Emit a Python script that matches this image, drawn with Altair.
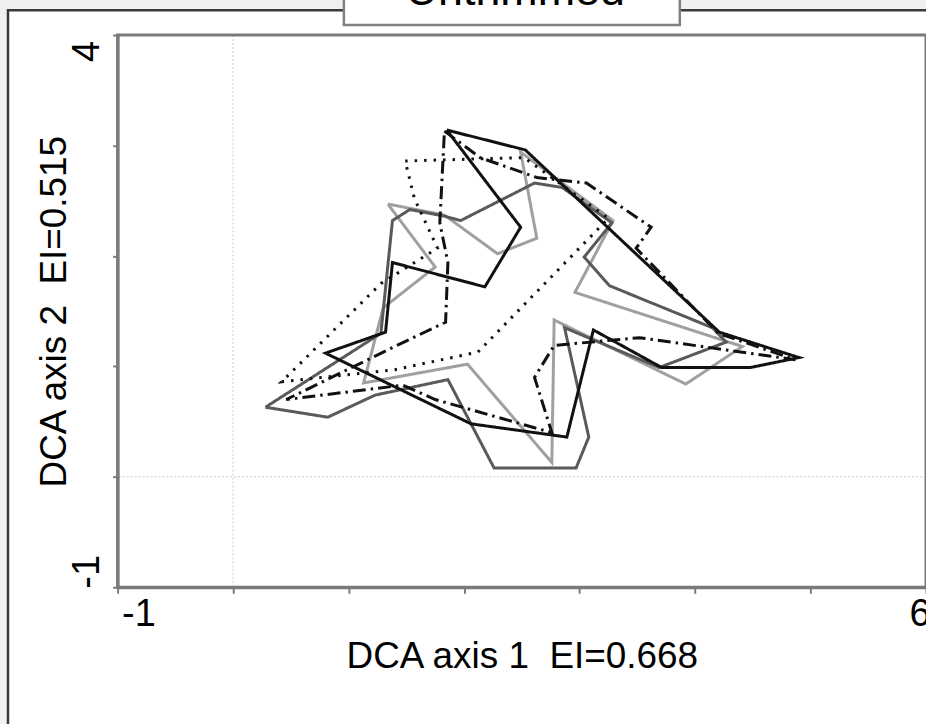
import altair as alt
import pandas as pd

# ---- outline vertices (DCA axis 1, DCA axis 2); each outline is closed ----
light_x = [1.34, 1.83, 2.29, 2.63, 2.49, 3.29, 2.96, 4.41, 3.92, 2.78, 2.76, 2.03, 1.13, 1.30, 1.75, 1.34]
light_y = [2.47, 2.37, 2.02, 2.16, 2.94, 2.32, 1.67, 1.18, 0.84, 1.42, 0.13, 1.02, 0.85, 1.53, 1.90, 2.47]

dark_x = [0.28, 1.28, 1.38, 1.53, 1.83, 1.97, 2.61, 2.85, 3.28, 3.04, 3.26, 4.15, 4.27, 3.69,
          2.87, 3.08, 2.97, 2.26, 1.86, 1.23, 0.82, 0.28]
dark_y = [0.63, 1.30, 2.32, 2.42, 2.36, 2.32, 2.66, 2.62, 2.30, 1.99, 1.73, 1.35, 1.22, 0.99,
          1.35, 0.36, 0.08, 0.08, 0.88, 0.74, 0.54, 0.63]

dotted_x = [1.49, 2.52, 3.25, 2.12, 1.40, 0.42, 1.28, 1.77, 1.57, 1.49]
dotted_y = [2.86, 2.89, 2.34, 1.13, 0.97, 0.86, 1.75, 2.07, 2.52, 2.86]

dashdot_x = [1.83, 2.14, 2.63, 3.06, 3.62, 3.49, 4.20, 4.87, 3.52, 2.78, 2.61, 2.76, 1.75,
             1.47, 0.46, 1.40, 1.84, 1.86, 1.79, 1.83]
dashdot_y = [3.13, 2.89, 2.71, 2.66, 2.26, 2.07, 1.30, 1.06, 1.26, 1.19, 0.90, 0.40, 0.70,
             0.83, 0.70, 1.18, 1.40, 1.94, 2.30, 3.13]

black_x = [1.85, 2.53, 4.21, 4.90, 4.48, 3.71, 3.12, 2.89, 2.06, 0.80, 1.32, 1.38, 2.18, 2.49, 1.85]
black_y = [3.14, 2.96, 1.31, 1.08, 0.99, 0.99, 1.33, 0.36, 0.48, 1.12, 1.31, 1.94, 1.72, 2.26, 3.14]

x_ticks = [-1, 0, 1, 2, 3, 4, 5, 6]
y_ticks = [-1, 0, 1, 2, 3, 4]
zero_lines = [0]

# ---- styling ----
FONT = "Liberation Sans"
AXIS_GRAY = "#7a7a7a"
W, H = 811, 554
LABEL_SIZE = 38

outline_styles = [
    ("light", light_x, light_y, "#a0a0a0", [1, 0]),
    ("dark", dark_x, dark_y, "#5a5a5a", [1, 0]),
    ("dotted", dotted_x, dotted_y, "#111111", [2.5, 7]),
    ("dashdot", dashdot_x, dashdot_y, "#111111", [13, 5, 2.5, 5]),
    ("black", black_x, black_y, "#111111", [1, 0]),
]

x_scale = alt.Scale(domain=[-1, 6], nice=False, zero=False)
y_scale = alt.Scale(domain=[-1, 4], nice=False, zero=False)

# only the end ticks are labelled; plain hyphen for the negative sign
END_LABEL_X = "datum.value == -1 || datum.value == 6 ? replace(datum.label, '\u2212', '-') : ''"
END_LABEL_Y = "datum.value == -1 || datum.value == 4 ? replace(datum.label, '\u2212', '-') : ''"

x_axis = alt.Axis(
    values=x_ticks,
    labelExpr=END_LABEL_X,
    title="DCA axis 1\u00a0 EI=0.668",
    grid=False,
    domainColor=AXIS_GRAY, domainWidth=3,
    tickColor=AXIS_GRAY, tickWidth=2, tickSize=6,
    labelFont=FONT, labelFontSize=LABEL_SIZE, labelColor="#000000",
    labelFlush=True, labelFlushOffset=0, labelOffset=4, labelPadding=2, labelOverlap=False,
    titleFont=FONT, titleFontSize=37, titleFontWeight="normal", titleColor="#000000",
    titlePadding=5,
    zindex=1,
)

y_axis = alt.Axis(
    values=y_ticks,
    labelExpr=END_LABEL_Y,
    title="DCA axis 2\u00a0 EI=0.515",
    grid=False,
    domainColor=AXIS_GRAY, domainWidth=3,
    tickColor=AXIS_GRAY, tickWidth=2, tickSize=5,
    labelFont=FONT, labelFontSize=LABEL_SIZE, labelColor="#000000",
    labelAngle=270, labelAlign="center", labelBaseline="bottom",
    labelOffset={"condition": {"test": "datum.value == 4", "value": 16}, "value": -16},
    labelPadding=6, labelOverlap=False, labelFlush=False,
    titleFont=FONT, titleFontSize=37, titleFontWeight="normal", titleColor="#000000",
    titlePadding=-5,
    zindex=1,
)

one_row = pd.DataFrame({"k": [0]})

# white panel with a dark border behind everything
panel = alt.Chart(one_row).mark_rect(
    fill="#ffffff", stroke="#3a3a3a", strokeWidth=2.5
).encode(
    x=alt.value(-110), x2=alt.value(W + 200),
    y=alt.value(-25), y2=alt.value(H + 300),
)

# boxed heading at the top
heading_box = alt.Chart(one_row).mark_rect(
    fill="#ffffff", stroke="#808080", strokeWidth=2.5
).encode(
    x=alt.value(227), x2=alt.value(564),
    y=alt.value(-90), y2=alt.value(-10),
)

heading = alt.Chart(one_row).mark_text(
    font=FONT, fontSize=45, align="center", baseline="alphabetic", color="#000000"
).encode(
    x=alt.value(399), y=alt.value(-30), text=alt.value("Untrimmed"),
)

vgrid = alt.Chart(pd.DataFrame({"x": zero_lines})).mark_rule(
    color="#c8c8c8", strokeWidth=1, strokeDash=[2, 2]
).encode(x=alt.X("x:Q", scale=x_scale, axis=x_axis))

hgrid = alt.Chart(pd.DataFrame({"y": zero_lines})).mark_rule(
    color="#c8c8c8", strokeWidth=1, strokeDash=[2, 2]
).encode(y=alt.Y("y:Q", scale=y_scale, axis=y_axis))

layers = [panel, heading_box, heading, vgrid, hgrid]

for name, xs, ys, color, dash in outline_styles:
    df = pd.DataFrame({"x": xs, "y": ys, "idx": list(range(len(xs)))})
    layers.append(
        alt.Chart(df).mark_line(
            color=color, strokeDash=dash, strokeWidth=3, strokeJoin="miter"
        ).encode(
            x=alt.X("x:Q", scale=x_scale, axis=x_axis),
            y=alt.Y("y:Q", scale=y_scale, axis=y_axis),
            order="idx:Q",
        )
    )

# plot-area frame
frame = alt.Chart(one_row).mark_rect(
    filled=False, stroke=AXIS_GRAY, strokeWidth=3
).encode(
    x=alt.value(0), x2=alt.value(W), y=alt.value(0), y2=alt.value(H),
)
layers.append(frame)

chart = alt.layer(*layers).properties(
    width=W, height=H,
    autosize=alt.AutoSizeParams(type="none"),
    padding={"left": 118, "top": 34, "right": 0, "bottom": 136},
    background="#f0f0f0",
).configure_view(stroke=None)

chart.save("out.html", embed_options={"renderer": "svg", "actions": False})
